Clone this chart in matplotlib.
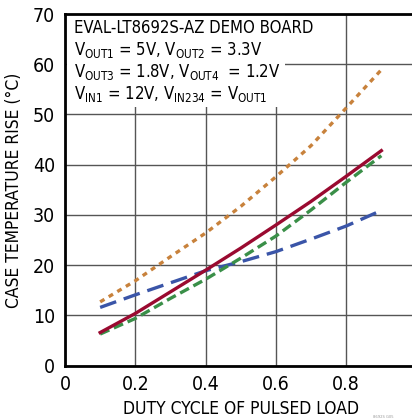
import matplotlib.pyplot as plt
from matplotlib import font_manager
from matplotlib.patches import Rectangle

# pick a narrow sans face if one is installed
narrow = None
for fam, stretch in [('Liberation Sans Narrow', 'normal'), ('DejaVu Sans', 'condensed')]:
    try:
        path = font_manager.findfont(font_manager.FontProperties(family=fam, stretch=stretch),
                                     fallback_to_default=False)
        if 'Narrow' in path or 'Condensed' in path:
            narrow = (fam, stretch)
            break
    except Exception:
        pass

if narrow:
    plt.rcParams['font.family'] = [narrow[0], 'DejaVu Sans']
    plt.rcParams['font.stretch'] = narrow[1]
    plt.rcParams['mathtext.fontset'] = 'custom'
    plt.rcParams['mathtext.rm'] = narrow[0] + (':stretch=condensed' if narrow[1] == 'condensed' else '')
    scale = 1.0
else:
    plt.rcParams['font.family'] = ['Liberation Sans', 'DejaVu Sans']
    plt.rcParams['mathtext.fontset'] = 'custom'
    plt.rcParams['mathtext.rm'] = 'Liberation Sans'
    scale = 0.85

# data
duty = [0.1, 0.2, 0.3, 0.4, 0.5, 0.6, 0.7, 0.8, 0.9]
temp_red = [6.6, 10.4, 14.7, 19.0, 23.4, 28.0, 32.7, 37.7, 42.8]
temp_green = [6.3, 9.4, 13.4, 17.2, 21.4, 25.8, 31.0, 36.5, 41.8]
temp_blue = [11.6, 14.1, 16.5, 18.9, 20.7, 22.7, 25.2, 27.8, 30.9]
temp_orange = [12.7, 16.9, 21.7, 26.4, 31.7, 37.6, 43.8, 51.3, 58.9]

x_ticks = [0, 0.2, 0.4, 0.6, 0.8]
x_labels = ['0', '0.2', '0.4', '0.6', '0.8']
y_ticks = [0, 10, 20, 30, 40, 50, 60, 70]

box_lines = [
    'EVAL-LT8692S-AZ DEMO BOARD',
    r'V$_{\mathrm{OUT1}}$ = 5V, V$_{\mathrm{OUT2}}$ = 3.3V',
    r'V$_{\mathrm{OUT3}}$ = 1.8V, V$_{\mathrm{OUT4}}$  = 1.2V',
    r'V$_{\mathrm{IN1}}$ = 12V, V$_{\mathrm{IN234}}$ = V$_{\mathrm{OUT1}}$',
]

fig = plt.figure(figsize=(4.12, 4.19), dpi=100)
ax = fig.add_axes([65 / 412, 53.3 / 419, 351.5 / 412, 351.7 / 419])
ax.set_xlim(0, 1.0)
ax.set_ylim(0, 70)

ax.plot(duty, temp_orange, color='#c8823c', lw=2.4, linestyle=(0, (1.5, 1.5)), zorder=3)
ax.plot(duty, temp_blue, color='#3a55a8', lw=2.4, linestyle=(0, (5.1, 2.4)), zorder=3)
ax.plot(duty, temp_green, color='#3a8f48', lw=2.4, linestyle=(0, (3.0, 1.5)), zorder=3)
ax.plot(duty, temp_red, color='#9a0a30', lw=2.4, zorder=4)

ax.set_xticks(x_ticks)
ax.set_xticklabels(x_labels)
ax.set_yticks(y_ticks)
ax.tick_params(length=0, labelsize=14 * scale, pad=7)
ax.grid(True, color='#555555', lw=1.0)
ax.set_axisbelow(True)

for side in ['left', 'bottom', 'top']:
    ax.spines[side].set_linewidth(2.0)
ax.spines['right'].set_visible(False)

ax.set_xlabel('DUTY CYCLE OF PULSED LOAD', fontsize=12.5 * scale, labelpad=4)
ax.set_ylabel('CASE TEMPERATURE RISE (°C)', fontsize=12.5 * scale, labelpad=7)

# white box behind the condition text
ax.add_patch(Rectangle((0.005, 51.4), 0.62, 18.5, facecolor='white',
                       edgecolor='none', zorder=2))
for i, line in enumerate(box_lines):
    ax.text(0.025, 67.2 - i * 4.4, line, fontsize=12 * scale, va='center', ha='left', zorder=5)

fig.text(0.905, 0.003, '8692S G05', fontsize=3, color='#999999')

fig.savefig('out.png', dpi=100)
